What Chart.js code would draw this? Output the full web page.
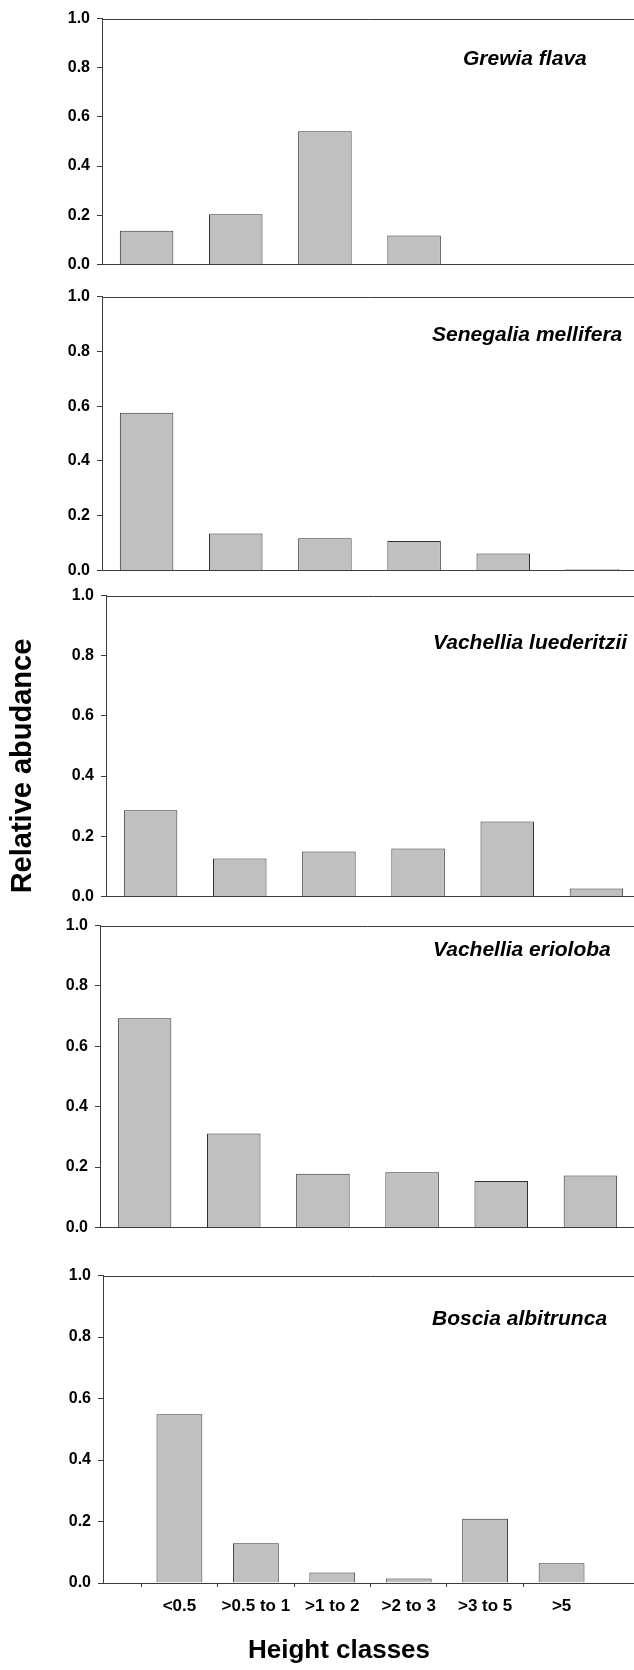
<!DOCTYPE html>
<html>
<head>
<meta charset="utf-8">
<script src="https://cdn.jsdelivr.net/npm/chart.js@4.4.1/dist/chart.umd.min.js"></script>
<style>
html, body { margin:0; padding:0; background:#ffffff; width:634px; height:1670px; overflow:hidden; position:relative; }
canvas { position:absolute; left:0; }
</style>
</head>
<body>
<canvas id="c0"></canvas>
<canvas id="c1"></canvas>
<canvas id="c2"></canvas>
<canvas id="c3"></canvas>
<canvas id="c4"></canvas>
<script>
// ---- data ----
const heightClasses = ['<0.5', '>0.5 to 1', '>1 to 2', '>2 to 3', '>3 to 5', '>5'];
const yTickValues = [0.0, 0.2, 0.4, 0.6, 0.8, 1.0];
const speciesNames = ['Grewia flava', 'Senegalia mellifera', 'Vachellia luederitzii', 'Vachellia erioloba', 'Boscia albitrunca'];
const grewiaFlava = [0.137, 0.204, 0.542, 0.118, 0, 0];
const senegaliaMellifera = [0.576, 0.135, 0.117, 0.107, 0.062, 0.004];
const vachelliaLuederitzii = [0.286, 0.126, 0.149, 0.159, 0.249, 0.026];
const vachelliaErioloba = [0.693, 0.311, 0.178, 0.183, 0.154, 0.172];
const bosciaAlbitrunca = [0.549, 0.129, 0.034, 0.015, 0.209, 0.064];
const yAxisTitle = 'Relative abudance';
const xAxisTitle = 'Height classes';

// ---- layout (styles / positions, not data) ----
const FONT = '"Liberation Sans", Arial, Helvetica, sans-serif';
const CANVAS_W = 660;
const PLOT_W = 535;
const PAD = 14;
const panels = [
  { id:'c0', values: grewiaFlava,          top:16,   bottom:267,  axisX:102, labelX:463, labelDy:46 },
  { id:'c1', values: senegaliaMellifera,   top:294,  bottom:573,  axisX:102, labelX:432, labelDy:44 },
  { id:'c2', values: vachelliaLuederitzii, top:593,  bottom:899,  axisX:106, labelX:433, labelDy:53 },
  { id:'c3', values: vachelliaErioloba,    top:923,  bottom:1230, axisX:100, labelX:433, labelDy:30 },
  { id:'c4', values: bosciaAlbitrunca,     top:1273, bottom:1583, axisX:103, labelX:432, labelDy:49.5, last:true }
];
const LINE = '#3c3c3c';

panels.forEach((p, idx) => {
  const cv = document.getElementById(p.id);
  const cTop = p.top - PAD;
  const cH = p.last ? (1670 - cTop) : (p.bottom - p.top + 2 * PAD);
  const xAxisH = p.last ? (cH - (p.bottom - cTop)) : 0;
  const padBottom = p.last ? 0 : PAD;
  cv.style.top = cTop + 'px';
  cv.width = CANVAS_W; cv.height = cH;
  cv.style.width = CANVAS_W + 'px'; cv.style.height = cH + 'px';

  const labels = p.last ? [''].concat(heightClasses, ['']) : heightClasses.slice();
  const data = p.last ? [null].concat(p.values, [null]) : p.values.slice();

  const panelPlugin = {
    id: 'panelDecor' + idx,
    afterDraw(chart) {
      const ctx = chart.ctx;
      const a = chart.chartArea;
      ctx.save();
      // top frame line
      ctx.strokeStyle = LINE;
      ctx.lineWidth = 1;
      ctx.beginPath();
      ctx.moveTo(a.left, Math.round(a.top) + 0.5);
      ctx.lineTo(a.right, Math.round(a.top) + 0.5);
      ctx.stroke();
      // species name
      ctx.fillStyle = '#000';
      ctx.font = 'italic bold 21px ' + FONT;
      ctx.textAlign = 'left';
      ctx.textBaseline = 'alphabetic';
      ctx.fillText(speciesNames[idx], p.labelX, a.top + p.labelDy);
      // y-axis title on middle panel
      if (idx === 2) {
        ctx.save();
        ctx.translate(23, 766 - cTop);
        ctx.rotate(-Math.PI / 2);
        ctx.font = 'bold 29px ' + FONT;
        ctx.textAlign = 'center';
        ctx.textBaseline = 'middle';
        ctx.fillText(yAxisTitle, 0, 0);
        ctx.restore();
      }
      // x-axis title on last panel
      if (p.last) {
        ctx.font = 'bold 26px ' + FONT;
        ctx.textAlign = 'center';
        ctx.textBaseline = 'middle';
        ctx.fillText(xAxisTitle, 339, 1651 - cTop);
      }
      ctx.restore();
    }
  };

  new Chart(cv, {
    type: 'bar',
    data: {
      labels: labels,
      datasets: [{
        data: data,
        backgroundColor: '#c0c0c0',
        borderColor: '#303030',
        borderWidth: 1,
        barPercentage: 0.6,
        categoryPercentage: 1.0
      }]
    },
    options: {
      responsive: false,
      animation: false,
      devicePixelRatio: 1,
      layout: { padding: { top: PAD, left: 0, right: CANVAS_W - (p.axisX + PLOT_W), bottom: padBottom } },
      plugins: { legend: { display: false }, tooltip: { enabled: false }, title: { display: false } },
      scales: {
        x: {
          type: 'category',
          offset: !p.last,
          grid: {
            display: !!p.last,
            drawOnChartArea: false,
            drawTicks: true,
            tickLength: 4,
            color: (c) => (c.tick && c.tick.label === '') ? 'rgba(0,0,0,0)' : LINE
          },
          border: { display: true, color: LINE, width: 1 },
          ticks: {
            display: !!p.last,
            autoSkip: false,
            maxRotation: 0,
            minRotation: 0,
            padding: 9,
            color: '#000',
            font: { family: FONT, size: 17, weight: 'bold' }
          },
          afterFit: (s) => { s.height = xAxisH; }
        },
        y: {
          type: 'linear',
          min: 0,
          max: 1,
          afterBuildTicks: (s) => { s.ticks = yTickValues.map(v => ({ value: v })); },
          grid: { display: true, drawOnChartArea: false, drawTicks: true, tickLength: 5, color: LINE },
          border: { display: true, color: LINE, width: 1 },
          ticks: {
            padding: 7,
            color: '#000',
            font: { family: FONT, size: 16, weight: 'bold' },
            callback: (v) => Number(v).toFixed(1)
          },
          afterFit: (s) => { s.width = p.axisX; }
        }
      }
    },
    plugins: [panelPlugin]
  });
});
</script>
</body>
</html>
